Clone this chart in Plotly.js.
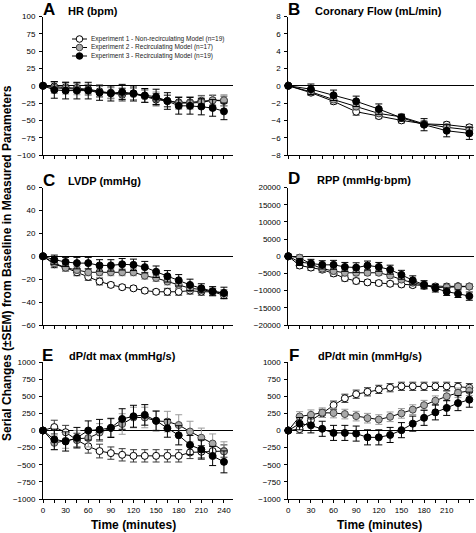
<!DOCTYPE html>
<html><head><meta charset="utf-8">
<script src="https://cdn.plot.ly/plotly-3.0.1.min.js"></script>
<style>html,body{margin:0;padding:0;background:#fff}#chart{width:476px;height:533px}</style>
</head><body><div id="chart"></div>
<script>
// ---------- DATA ----------
const time15 = [0,15,30,45,60,75,90,105,120,135,150,165,180,195,210,225,240];
const time30 = [0,30,60,90,120,150,180,210,240];
const seriesNames = [
  'Experiment 1 - Non-recirculating Model (n=19)',
  'Experiment 2 - Recirculating Model (n=17)',
  'Experiment 3 - Recirculating Model (n=19)'
];
const xTickVals = [0,15,30,45,60,75,90,105,120,135,150,165,180,195,210,225,240];
const xTickText = ['0','','30','','60','','90','','120','','150','','180','','210','','240'];

// A: HR (bpm)
const hrExp1 = [0,-1,-2,-3,-5,-8,-10,-13,-11,-15,-20,-22,-24,-24,-22,-21,-22];
const hrExp2 = [0,-3,-4,-5,-6,-9,-11,-11,-12,-15,-18,-22,-25,-25,-24,-21,-21];
const hrExp3 = [0,-6,-7,-7,-7,-10,-11,-9,-11,-14,-16,-22,-29,-29,-30,-32,-37];
const hrErr1 = [0,7,7,7,7,8,8,9,9,9,9,8,8,8,8,7,7];
const hrErr2 = [0,8,8,8,8,8,8,8,8,9,9,9,9,9,9,8,8];
const hrErr3 = [0,12,12,12,12,11,11,11,11,10,11,12,12,12,12,12,12];

// B: Coronary Flow (mL/min)
const cfExp1 = [0,-0.8,-1.8,-3.0,-3.5,-4.0,-4.4,-4.5,-4.8];
const cfExp2 = [0,-0.7,-1.6,-2.4,-3.2,-3.6,-4.4,-4.8,-5.1];
const cfExp3 = [0,-0.4,-1.1,-1.8,-2.7,-3.7,-4.5,-5.2,-5.5];
const cfErr1 = [0,0.3,0.3,0.4,0.3,0.3,0.3,0.3,0.3];
const cfErr2 = [0,0.3,0.3,0.4,0.3,0.3,0.3,0.4,0.4];
const cfErr3 = [0,0.6,0.6,0.6,0.6,0.4,0.7,0.7,0.7];

// C: LVDP (mmHg)
const lvExp1 = [0,-7,-10,-14,-18,-22,-25,-27,-28,-30,-31,-31,-31,-30,-31,-31,-34];
const lvExp2 = [0,-6,-10,-12,-14,-14,-14,-14,-14,-17,-19,-22,-25,-28,-29,-31,-32];
const lvExp3 = [0,-3,-5,-6,-6,-8,-8,-7,-7.5,-9.5,-13.5,-17.5,-21,-25,-28,-30.5,-32];
const lvErr1 = [0,3,3,3,3,3,2,2,2,2,2,3,3,3,3,3,3];
const lvErr2 = [0,3,3,3,3,3,3,3,3,3,3,3,3,3,3,3,3];
const lvErr3 = [0,4,4,5,5,5,5,5,5,5,5,5,5,5,4,4,5];

// D: RPP (mmHg·bpm)
const rpExp1 = [0,-2700,-3300,-3900,-5000,-6400,-7200,-7600,-7800,-8000,-8200,-8400,-8600,-8800,-8800,-8700,-8800];
const rpExp2 = [0,-400,-2300,-3600,-4300,-4800,-4800,-4800,-4800,-5600,-6800,-7700,-8300,-9100,-9000,-8800,-8800];
const rpExp3 = [0,-1700,-2100,-2500,-2500,-3100,-3300,-2700,-3100,-3900,-5400,-7000,-8300,-9300,-10300,-10900,-11600];
const rpErr1 = [0,800,800,800,800,800,800,700,700,700,700,700,700,700,700,700,700];
const rpErr2 = [0,900,900,900,900,900,900,800,800,800,800,800,800,800,800,800,800];
const rpErr3 = [0,1000,1200,1200,1300,1300,1400,1300,1300,1300,1300,1300,1200,1100,1100,1100,1200];

// E: dP/dt max (mmHg/s)
const mxExp1 = [0,50,-25,-140,-230,-300,-330,-355,-370,-370,-370,-370,-370,-320,-310,-300,-300];
const mxExp2 = [0,-180,-150,-120,-110,-30,40,95,190,190,140,130,80,-15,-105,-190,-305];
const mxExp3 = [0,-130,-160,-105,0,12,38,168,208,228,142,32,-70,-212,-278,-372,-458];
const mxErr1 = [0,100,100,100,100,100,90,90,90,90,90,90,90,90,90,90,90];
const mxErr2 = [0,100,110,120,130,130,130,150,150,150,150,150,150,150,140,140,140];
const mxErr3 = [0,150,140,150,140,150,140,150,160,150,140,130,140,140,140,140,160];

// F: dP/dt min (mmHg/s)
const mnExp1 = [0,20,150,250,370,470,530,565,600,625,645,645,645,645,645,640,625];
const mnExp2 = [0,205,230,260,255,240,210,180,160,200,250,305,370,435,500,550,580];
const mnExp3 = [0,100,75,25,-35,-35,-45,-100,-100,-65,5,100,185,265,330,400,450];
const mnErr1 = [0,60,60,60,60,60,60,60,60,60,60,60,60,60,60,60,60];
const mnErr2 = [0,70,70,70,70,70,70,70,70,70,70,70,70,70,70,70,70];
const mnErr3 = [0,90,110,110,110,110,110,110,110,110,110,110,110,110,110,110,110];

// ---------- STYLE / LAYOUT ----------
const W = 476, H = 533;
const FONT = 'Liberation Sans, Arial, Helvetica, sans-serif';
const px = x => x / W;
const py = y => 1 - y / H;

const styles = [
  {fill:'#ffffff', edge:'#000000', err:'#3a3a3a'},
  {fill:'#a8a8a8', edge:'#444444', err:'#9a9a9a'},
  {fill:'#000000', edge:'#000000', err:'#000000'}
];

function makeTraces(x, ys, errs, xa, ya){
  return ys.map((y, i) => ({
    type:'scatter', mode:'lines+markers', x:x, y:y,
    xaxis:xa, yaxis:ya, showlegend:false, cliponaxis:false,
    name: seriesNames[i],
    line:{color:'#000', width:1},
    marker:{symbol:'circle', size:7, color:styles[i].fill, line:{color:styles[i].edge, width:1}},
    error_y:{type:'data', array:errs[i], visible:true, color:styles[i].err, thickness:1, width:3.5}
  }));
}

const data = [].concat(
  makeTraces(time15, [hrExp1,hrExp2,hrExp3], [hrErr1,hrErr2,hrErr3], 'x', 'y'),
  makeTraces(time30, [cfExp1,cfExp2,cfExp3], [cfErr1,cfErr2,cfErr3], 'x2', 'y2'),
  makeTraces(time15, [lvExp1,lvExp2,lvExp3], [lvErr1,lvErr2,lvErr3], 'x3', 'y3'),
  makeTraces(time15, [rpExp1,rpExp2,rpExp3], [rpErr1,rpErr2,rpErr3], 'x4', 'y4'),
  makeTraces(time15, [mxExp1,mxExp2,mxExp3], [mxErr1,mxErr2,mxErr3], 'x5', 'y5'),
  makeTraces(time15, [mnExp1,mnExp2,mnExp3], [mnErr1,mnErr2,mnErr3], 'x6', 'y6')
);

const leftDom = [px(43), px(233)], rightDom = [px(288.3), px(474)];
const leftRange = [0, 252], rightRange = [0, 246.2];
const rowDom = [[py(155), py(16.5)], [py(325), py(187.5)], [py(499), py(362)]];

function xAx(dom, range, labels, anchor){
  return {domain:dom, range:range, anchor:anchor, showline:true, linecolor:'#000', linewidth:1,
    zeroline:false, showgrid:false, ticks:'outside', ticklen:3, tickcolor:'#000', tickwidth:1,
    tickmode:'array', tickvals:xTickVals, ticktext:xTickText, showticklabels:labels,
    tickfont:{family:FONT, size:8, color:'#000'}, fixedrange:true};
}
function yAx(dom, range, dtick, anchor){
  return {domain:dom, range:range, anchor:anchor, showline:true, linecolor:'#000', linewidth:1,
    zeroline:true, zerolinecolor:'#000', zerolinewidth:1, showgrid:false,
    ticks:'outside', ticklen:3, tickcolor:'#000', tickwidth:1, tick0:0, dtick:dtick,
    tickformat:'d', exponentformat:'none',
    tickfont:{family:FONT, size:8, color:'#000'}, ticklabelstandoff:2, fixedrange:true};
}

const annotations = [];
function label(x, y, text, size, anchor){
  annotations.push({xref:'paper', yref:'paper', x:px(x), y:py(y), text:text, showarrow:false,
    xanchor:anchor||'left', yanchor:'middle', font:{family:FONT, size:size, color:'#000'}});
}
const panels = [
  ['A','HR (bpm)',43,10,68,11],
  ['B','Coronary Flow (mL/min)',288,10,315,11],
  ['C','LVDP (mmHg)',43,180,68,181],
  ['D','RPP (mmHg·bpm)',288,179,317,180],
  ['E','dP/dt max (mmHg/s)',42,355,69,356],
  ['F','dP/dt min (mmHg/s)',289,355,318,356]
];
panels.forEach(p => {
  label(p[2]-2, p[3], '<b>'+p[0]+'</b>', 17);
  label(p[4]-2, p[5], '<b>'+p[1]+'</b>', 11);
});
label(133.5, 525, '<b>Time (minutes)</b>', 12, 'center');
label(379, 525, '<b>Time (minutes)</b>', 12, 'center');
annotations.push({xref:'paper', yref:'paper', x:px(7), y:py(263), textangle:-90, showarrow:false,
  xanchor:'center', yanchor:'middle',
  text:'<b>Serial Changes (±SEM) from Baseline in Measured Parameters</b>',
  font:{family:FONT, size:12, color:'#000'}});

// manual legend (key shapes + text)
const shapes = [];
const legRows = [39, 47.5, 56];
legRows.forEach((ry, i) => {
  shapes.push({type:'line', xref:'paper', yref:'paper', x0:px(72), x1:px(87), y0:py(ry), y1:py(ry),
    line:{color:'#000', width:1}});
  shapes.push({type:'circle', xref:'paper', yref:'paper', xsizemode:'pixel', ysizemode:'pixel',
    xanchor:px(79.5), yanchor:py(ry), x0:-3.3, x1:3.3, y0:-3.3, y1:3.3,
    fillcolor:styles[i].fill, line:{color:styles[i].edge, width:1}});
  annotations.push({xref:'paper', yref:'paper', x:px(89), y:py(ry), text:seriesNames[i], showarrow:false,
    xanchor:'left', yanchor:'middle', font:{family:FONT, size:6.5, color:'#222'}});
});

const layout = {
  width:W, height:H, margin:{l:0, r:0, t:0, b:0},
  paper_bgcolor:'#fff', plot_bgcolor:'rgba(0,0,0,0)', showlegend:false,
  font:{family:FONT, color:'#000'},
  xaxis: xAx(leftDom, leftRange, false, 'y'),
  yaxis: yAx(rowDom[0], [-100,100], 25, 'x'),
  xaxis2: xAx(rightDom, rightRange, false, 'y2'),
  yaxis2: yAx(rowDom[0], [-8,8], 2, 'x2'),
  xaxis3: xAx(leftDom, leftRange, false, 'y3'),
  yaxis3: yAx(rowDom[1], [-60,60], 20, 'x3'),
  xaxis4: xAx(rightDom, rightRange, false, 'y4'),
  yaxis4: yAx(rowDom[1], [-20000,20000], 5000, 'x4'),
  xaxis5: xAx(leftDom, leftRange, true, 'y5'),
  yaxis5: yAx(rowDom[2], [-1000,1000], 250, 'x5'),
  xaxis6: xAx(rightDom, rightRange, true, 'y6'),
  yaxis6: yAx(rowDom[2], [-1000,1000], 250, 'x6'),
  annotations:annotations, shapes:shapes
};

Plotly.newPlot('chart', data, layout, {staticPlot:true, displayModeBar:false});
</script></body></html>
